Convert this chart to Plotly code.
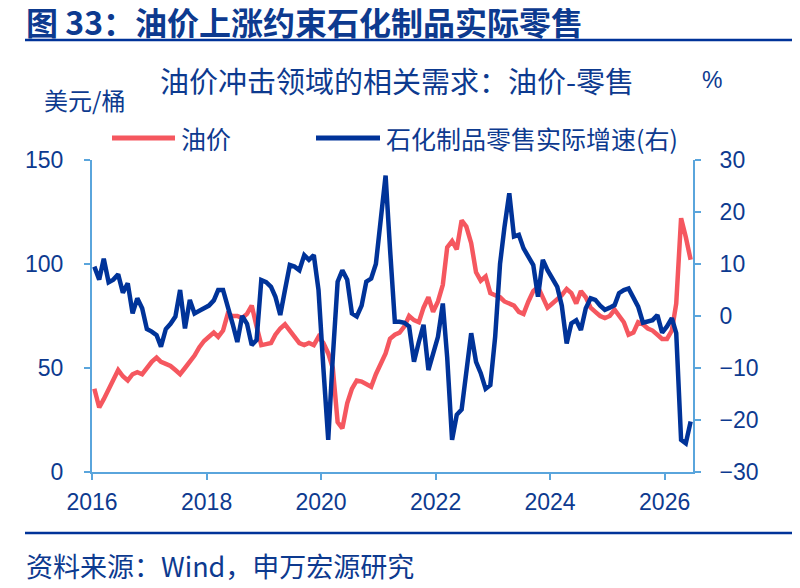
import pandas as pd
import plotly.graph_objects as go

# 页面 body 默认有 8px 边距，图本身取 792x580，坐标按参考图像素再减 8
W, H = 792, 580
OFF = 8

# 月度数据：2016-01 ~ 2026-06（日期取月中）
months = pd.date_range("2016-01-01", periods=126, freq="MS") + pd.Timedelta(days=15)

oil_price = [
    40, 31, 35, 40, 45, 49, 46, 44, 47, 48,
    47, 50, 53, 55, 53, 52, 51, 49, 47, 50,
    53, 56, 60, 63, 65, 67, 65, 68, 76, 75,
    75, 74, 76, 80, 70, 61, 61.5, 62, 66, 69,
    71, 68, 65, 62, 61, 62, 61, 65, 62, 57,
    50, 24, 21, 33, 40, 44, 43.5, 42.5, 41, 47,
    52, 57, 64, 66, 67, 70, 75, 73, 72, 79,
    84, 77, 82, 90, 108, 111, 107, 121, 118, 110,
    96, 92, 94, 86, 85, 84, 82, 81, 80, 77,
    76, 82, 87, 89, 84, 79, 81, 83, 85, 88,
    86, 81, 87, 84, 79, 77, 75, 74, 75, 78,
    75, 72, 66, 67, 72, 71, 69, 68, 66, 64,
    64, 68, 81, 122, 113, 102,
]

retail_growth = [
    9.5, 7, 11, 6.5, 7, 8, 4.5, 6.3, 0.5, 3.4,
    1.5, -2.5, -3, -3.7, -5.9, -2.5, -1.5, -0.1, 5, -2.4,
    3.1, 0.5, 1, 1.5, 2, 3, 5, 5, 2, -1.5,
    -5, 0, -1.5, -5.6, -4.6, 6.9, 6.5, 5.6, 3.7, 0.2,
    5, 9.8, 9.5, 8.8, 11.7, 10.8, 11.7, 5, -10, -23.8,
    -8, 6.6, 8.8, 7, 0.5, -0.1, 2, 6.6, 7.2, 10,
    18.5, 27, 13, -1.1, -1.1, -1.3, -2, -8.8, -5, -1.7,
    -10.4, -7, -4, 2.4, -8, -23.8, -19, -18, -10, -3.3,
    -8.8, -11, -14, -13.3, -4, 10, 17, 23.6, 15.3, 15.6,
    13, 11.4, 9.8, 3.7, 10.8, 8.8, 7, 5.6, 2, -5.3,
    -1.4, -0.8, -2.7, 1.5, 3.4, 3.1, 2, 1.2, 1.6, 2.1,
    4.4, 5, 5.3, 3.5, 1.8, -1.3, -1, -0.8, 0.2, -3.2,
    -2, -0.4, -3.3, -23.8, -24.5, -20.3,
]

RED = "#F5575F"
BLUE = "#003399"
TXT = "#0d3a8f"
AXIS = "#5AA5DC"
CJK = "Noto Sans CJK SC, Liberation Sans, sans-serif"
NUM = "Liberation Sans, Arial, sans-serif"


def px(x):
    return (x - OFF) / W


def py(y):
    return 1 - (y - OFF) / H


fig = go.Figure()
fig.add_trace(go.Scatter(x=months, y=oil_price, name="油价", mode="lines",
                         line=dict(color=RED, width=4.5), showlegend=False))
fig.add_trace(go.Scatter(x=months, y=retail_growth, name="石化制品零售实际增速(右)", mode="lines",
                         line=dict(color=BLUE, width=4.5), yaxis="y2", showlegend=False))

axis_common = dict(showgrid=False, zeroline=False, showline=True, linecolor=AXIS, linewidth=2,
                   ticks="outside", ticklen=6, tickcolor=AXIS, tickwidth=2,
                   tickfont=dict(family=NUM, size=23, color=TXT), automargin=False)

fig.update_layout(
    width=W, height=H,
    margin=dict(l=0, r=0, t=0, b=0),
    paper_bgcolor="white", plot_bgcolor="white",
    xaxis=dict(axis_common, domain=[px(92), px(693)], range=["2016-01-01", "2026-07-01"],
               tick0="2016-01-01", dtick="M24", tickformat="%Y", ticklabelstandoff=2),
    yaxis=dict(axis_common, domain=[py(472), py(160)], range=[0, 150], dtick=50,
               ticklabelstandoff=16),
    yaxis2=dict(axis_common, overlaying="y", side="right", anchor="x", range=[-30, 30], dtick=10,
                ticklabelstandoff=14),
)

# 标题与分隔线
fig.add_annotation(text="<b>图 33：油价上涨约束石化制品实际零售</b>", x=px(24), y=py(21),
                   xref="paper", yref="paper", xanchor="left", yanchor="middle", showarrow=False,
                   font=dict(family=CJK, size=32, color=TXT))
fig.add_shape(type="line", xref="paper", yref="paper", x0=px(25), x1=1, y0=py(40), y1=py(40),
              line=dict(color=BLUE, width=2.5))
fig.add_annotation(text="油价冲击领域的相关需求：油价-零售", x=px(397), y=py(80),
                   xref="paper", yref="paper", xanchor="center", yanchor="middle", showarrow=False,
                   font=dict(family=CJK, size=29, color=TXT))
fig.add_annotation(text="美元/桶", x=px(84), y=py(99), xref="paper", yref="paper",
                   xanchor="center", yanchor="middle", showarrow=False,
                   font=dict(family=CJK, size=24, color=TXT))
fig.add_annotation(text="%", x=px(712), y=py(80), xref="paper", yref="paper",
                   xanchor="center", yanchor="middle", showarrow=False,
                   font=dict(family=NUM, size=23, color=TXT))

# 图例
for x0, x1, color, label in [(112, 175, RED, "油价"), (316, 380, BLUE, "石化制品零售实际增速(右)")]:
    fig.add_shape(type="line", xref="paper", yref="paper", x0=px(x0), x1=px(x1),
                  y0=py(138), y1=py(138), line=dict(color=color, width=5))
    fig.add_annotation(text=label, x=px(x1 + 4), y=py(138), xref="paper", yref="paper",
                       xanchor="left", yanchor="middle", showarrow=False,
                       font=dict(family=CJK, size=25, color=TXT))

# 资料来源
fig.add_shape(type="line", xref="paper", yref="paper", x0=px(25), x1=1, y0=py(533), y1=py(533),
              line=dict(color=BLUE, width=2.5))
fig.add_annotation(text="资料来源：Wind，申万宏源研究", x=px(24), y=py(565),
                   xref="paper", yref="paper", xanchor="left", yanchor="middle", showarrow=False,
                   font=dict(family=CJK, size=27, color=TXT))

fig.write_html("out.html")
